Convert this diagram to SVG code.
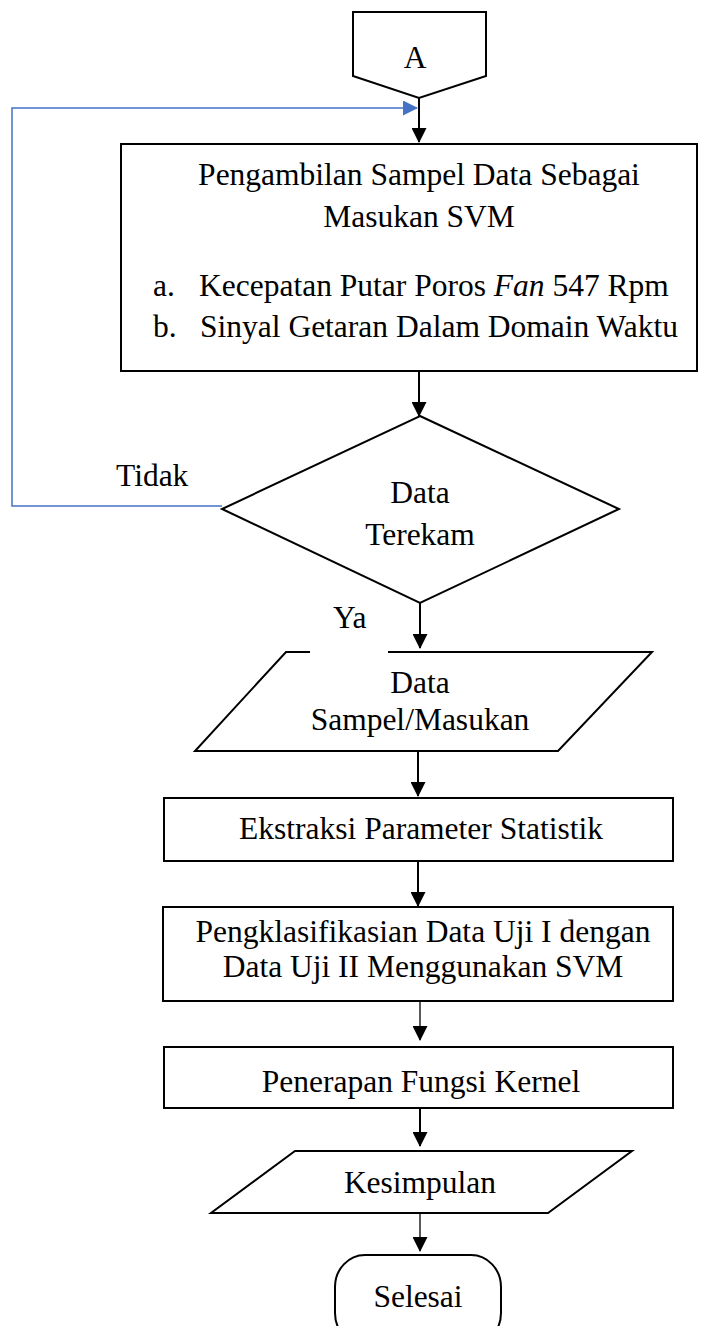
<svg xmlns="http://www.w3.org/2000/svg" width="707" height="1326" viewBox="0 0 707 1326">
<style>
  text { font-family: "Liberation Serif", "Times New Roman", serif; font-size: 31.5px; fill: #000; }
  .c { text-anchor: middle; }
  .shape { fill: #fff; stroke: #000; stroke-width: 2; }
  .conn { fill: none; stroke: #000; stroke-width: 2; }
  .thin { fill: none; stroke: #000; stroke-width: 1.3; }
  .blue { fill: none; stroke: #4472C4; stroke-width: 1.5; }
</style>
<defs>
  <marker id="ah" markerWidth="15" markerHeight="15" refX="14" refY="7.5" orient="auto" markerUnits="userSpaceOnUse">
    <path d="M0,0 L15,7.5 L0,15 z" fill="#000"/>
  </marker>
  <marker id="ahb" markerWidth="15" markerHeight="15" refX="14" refY="7.5" orient="auto" markerUnits="userSpaceOnUse">
    <path d="M0,0 L15,7.5 L0,15 z" fill="#4472C4"/>
  </marker>
</defs>
<rect width="707" height="1326" fill="#fff"/>

<g id="connectors">
  <path class="conn" d="M419,98 V142" marker-end="url(#ah)"/>
  <path class="conn" d="M419,371 V416" marker-end="url(#ah)"/>
  <path class="conn" d="M420,603 V648" marker-end="url(#ah)"/>
  <path class="conn" d="M418,751 V796" marker-end="url(#ah)"/>
  <path class="conn" d="M418,861 V906" marker-end="url(#ah)"/>
  <path class="thin" d="M420,1001 V1040" marker-end="url(#ah)"/>
  <path class="conn" d="M420,1108 V1146" marker-end="url(#ah)"/>
  <path class="thin" d="M420,1213 V1251" marker-end="url(#ah)"/>
  <path class="blue" d="M222,506 H12 V108 H417" marker-end="url(#ahb)"/>
</g>

<g id="start-A">
  <path class="shape" d="M353,12 H486 V76 L419,98 L353,76 Z" stroke-width="2.5"/>
  <text class="c" x="415" y="68">A</text>
</g>

<g id="sampling">
  <rect class="shape" x="121" y="144" width="576" height="227"/>
  <text class="c" x="419" y="185">Pengambilan Sampel Data Sebagai</text>
  <text class="c" x="419" y="227">Masukan SVM</text>
  <text x="153" y="296">a.</text>
  <text x="199" y="296">Kecepatan Putar Poros <tspan font-style="italic">Fan</tspan> 547 Rpm</text>
  <text x="153" y="337">b.</text>
  <text x="200" y="337">Sinyal Getaran Dalam Domain Waktu</text>
</g>

<g id="decision">
  <path class="shape" d="M420,416 L619,509 L420,603 L222,509 Z"/>
  <text class="c" x="420" y="503">Data</text>
  <text class="c" x="420" y="545">Terekam</text>
</g>

<g id="label-tidak">
  <text x="116" y="486">Tidak</text>
</g>

<g id="data-sampel">
  <path class="shape" d="M286,652 H652 L558,751 H195 Z"/>
  <text class="c" x="420" y="693">Data</text>
  <text class="c" x="420" y="730">Sampel/Masukan</text>
</g>

<g id="label-ya">
  <rect x="310" y="589" width="78" height="65" fill="#fff"/>
  <text x="333" y="628">Ya</text>
</g>

<g id="ekstraksi">
  <rect class="shape" x="164" y="798" width="509" height="63"/>
  <text class="c" x="421" y="839">Ekstraksi Parameter Statistik</text>
</g>

<g id="klasifikasi">
  <rect class="shape" x="163" y="907" width="510" height="94"/>
  <text class="c" x="423" y="942">Pengklasifikasian Data Uji I dengan</text>
  <text class="c" x="423" y="977">Data Uji II Menggunakan SVM</text>
</g>

<g id="kernel">
  <rect class="shape" x="164" y="1047" width="509" height="61"/>
  <text class="c" x="421" y="1092">Penerapan Fungsi Kernel</text>
</g>

<g id="kesimpulan">
  <path class="shape" d="M295,1151 H632 L548,1213 H211 Z"/>
  <text class="c" x="420" y="1193">Kesimpulan</text>
</g>

<g id="selesai">
  <rect class="shape" x="335" y="1255" width="166" height="90" rx="30" ry="32"/>
  <text class="c" x="418" y="1307">Selesai</text>
</g>
</svg>
